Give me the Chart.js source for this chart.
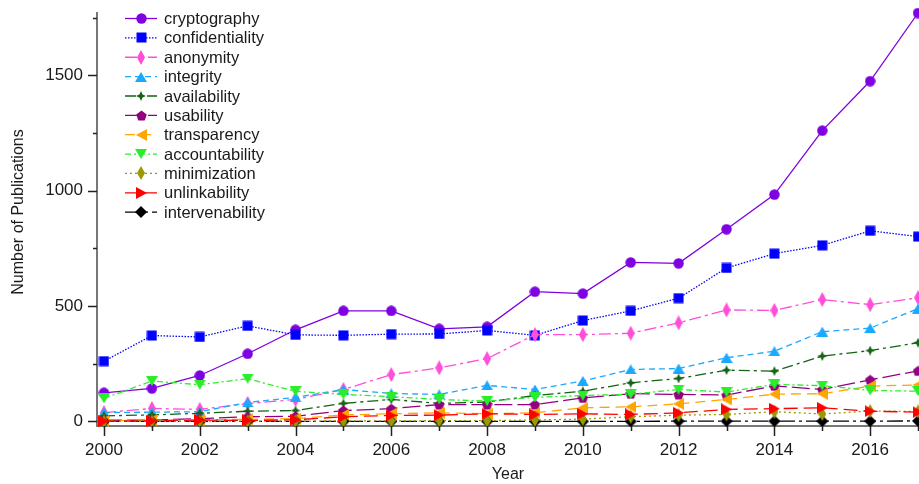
<!DOCTYPE html>
<html>
<head>
<meta charset="utf-8">
<title>Publications per year</title>
<script src="https://cdn.jsdelivr.net/npm/chart.js@4.4.1/dist/chart.umd.min.js"></script>
<style>
  html, body { margin: 0; padding: 0; background: #fff; overflow: hidden; }
  #chart { display: block; }
</style>
</head>
<body>
<canvas id="chart" width="919" height="484"></canvas>
<script>
// publications per year and keyword
var years = [2000, 2001, 2002, 2003, 2004, 2005, 2006, 2007, 2008, 2009, 2010, 2011, 2012, 2013, 2014, 2015, 2016, 2017];
var xTickLabels = [2000, 2002, 2004, 2006, 2008, 2010, 2012, 2014, 2016];
var yTickLabels = [0, 500, 1000, 1500];
var yMinorTicks = [250, 750, 1250, 1750];

var cryptography    = [124, 143, 199, 293, 397, 479, 479, 401, 410, 562, 554, 689, 685, 833, 983, 1260, 1475, 1770];
var confidentiality = [261, 372, 366, 414, 375, 373, 378, 379, 394, 373, 437, 479, 534, 665, 727, 763, 826, 801];
var anonymity       = [38, 56, 52, 77, 95, 138, 203, 232, 272, 376, 376, 382, 427, 483, 481, 528, 506, 536];
var integrity       = [38, 40, 42, 82, 104, 138, 121, 117, 156, 138, 175, 225, 229, 276, 304, 389, 404, 489];
var availability    = [24, 28, 35, 44, 47, 78, 95, 78, 84, 112, 131, 167, 186, 222, 218, 283, 307, 341];
var usability       = [5, 6, 12, 20, 22, 47, 55, 73, 73, 73, 102, 120, 117, 114, 154, 138, 180, 219];
var transparency    = [3, 5, 7, 9, 12, 28, 33, 37, 33, 37, 59, 63, 76, 95, 118, 120, 153, 158];
var accountability  = [100, 175, 159, 185, 130, 117, 107, 95, 88, 104, 112, 118, 138, 127, 160, 155, 134, 131];
var minimization    = [0, 0, 1, 1, 1, 2, 2, 3, 3, 6, 10, 20, 27, 30, 42, 32, 45, 43];
var unlinkability   = [1, 2, 6, 4, 7, 20, 26, 27, 33, 30, 33, 30, 37, 52, 55, 59, 44, 40];
var intervenability = [0, 0, 0, 0, 0, 0, 0, 0, 0, 0, 0, 0, 1, 1, 1, 1, 1, 2];

var FONT = '"Liberation Sans", Arial, sans-serif';

// marker images, drawn once and reused by the points and the legend
function marker(w, h, color, path) {
    var c = document.createElement('canvas');
    c.width = w;
    c.height = h;
    var g = c.getContext('2d');
    g.fillStyle = color;
    g.beginPath();
    path(g, w, h);
    g.closePath();
    g.fill();
    return c;
}
function circle(g, w, h) { g.arc(w / 2, h / 2, w / 2 - 0.3, 0, Math.PI * 2); }
function square(g, w, h) { g.rect(0.5, 0.5, w - 1, h - 1); }
function diamond(g, w, h) { g.moveTo(w / 2, 0); g.lineTo(w, h / 2); g.lineTo(w / 2, h); g.lineTo(0, h / 2); }
function triUp(g, w, h) { g.moveTo(w / 2, 0); g.lineTo(w, h); g.lineTo(0, h); }
function triDown(g, w, h) { g.moveTo(0, 0); g.lineTo(w, 0); g.lineTo(w / 2, h); }
function triLeft(g, w, h) { g.moveTo(0, h / 2); g.lineTo(w, 0); g.lineTo(w, h); }
function triRight(g, w, h) { g.moveTo(w, h / 2); g.lineTo(0, 0); g.lineTo(0, h); }
function star4(g, w, h) {
    for (var k = 0; k < 8; k++) {
        var a = k * Math.PI / 4 - Math.PI / 2;
        var r = k % 2 === 0 ? w / 2 : w * 0.22;
        var px = w / 2 + Math.cos(a) * r, py = h / 2 + Math.sin(a) * r;
        if (k === 0) g.moveTo(px, py); else g.lineTo(px, py);
    }
}
function pentagon(g, w, h) {
    for (var k = 0; k < 5; k++) {
        var a = k * 2 * Math.PI / 5 - Math.PI / 2;
        var px = w / 2 + Math.cos(a) * w / 2, py = h / 2 + 0.6 + Math.sin(a) * w / 2;
        if (k === 0) g.moveTo(px, py); else g.lineTo(px, py);
    }
}

function series(label, values, color, dash, img, order) {
    return {
        label: label,
        data: values.map(function (v, i) { return { x: years[i], y: v }; }),
        borderColor: color,
        backgroundColor: color,
        borderWidth: 1.3,
        borderDash: dash,
        pointStyle: img,
        pointRadius: 6,
        order: order,
        clip: false,
        tension: 0
    };
}

var datasets = [
    series('cryptography', cryptography, '#7f00e0', [], marker(11, 11, '#7f00e0', circle), 11),
    series('confidentiality', confidentiality, '#0000ff', [1.5, 1.5], marker(11, 11, '#0000ff', square), 10),
    series('anonymity', anonymity, '#ff4fd8', [12, 4, 3, 4], marker(8, 15, '#ff4fd8', diamond), 9),
    series('integrity', integrity, '#1aa9ff', [6, 4], marker(12, 10, '#1aa9ff', triUp), 8),
    series('availability', availability, '#126312', [11, 4, 3, 4], marker(10, 10, '#126312', star4), 7),
    series('usability', usability, '#920080', [18, 5], marker(11, 11, '#920080', pentagon), 6),
    series('transparency', transparency, '#ffa500', [10, 6], marker(11, 12, '#ffa500', triLeft), 5),
    series('accountability', accountability, '#2aee2a', [6, 3, 2, 3], marker(12, 10, '#2aee2a', triDown), 4),
    series('minimization', minimization, '#999900', [2, 3], marker(8, 14, '#999900', diamond), 3),
    series('unlinkability', unlinkability, '#ff0000', [14, 6], marker(11, 12, '#ff0000', triRight), 2),
    series('intervenability', intervenability, '#000000', [16, 4, 3, 4], marker(12, 12, '#000000', diamond), 3.5)
];

// tick marks (long at labelled values, short in between) and the y title
var axisExtras = {
    id: 'axisExtras',
    afterDraw: function (chart) {
        var ctx = chart.ctx, x = chart.scales.x, y = chart.scales.y, area = chart.chartArea;
        ctx.save();
        ctx.strokeStyle = '#222';
        ctx.lineWidth = 1.5;
        ctx.beginPath();
        years.forEach(function (yr) {
            var px = Math.round(x.getPixelForValue(yr)) + 0.5;
            var len = xTickLabels.indexOf(yr) >= 0 ? 10 : 5;
            ctx.moveTo(px, area.bottom);
            ctx.lineTo(px, area.bottom + len);
        });
        yTickLabels.concat(yMinorTicks).forEach(function (v) {
            var py = Math.round(y.getPixelForValue(v)) + 0.5;
            var len = yTickLabels.indexOf(v) >= 0 ? 9 : 4;
            ctx.moveTo(area.left, py);
            ctx.lineTo(area.left - len, py);
        });
        ctx.stroke();

        ctx.translate(18.5, 212);
        ctx.rotate(-Math.PI / 2);
        ctx.font = '16px ' + FONT;
        ctx.fillStyle = '#1a1a1a';
        ctx.textAlign = 'center';
        ctx.textBaseline = 'middle';
        ctx.fillText('Number of Publications', 0, 0);
        ctx.restore();
    }
};

// legend inside the plot: line sample with its marker, then the name
var lineLegend = {
    id: 'lineLegend',
    afterDraw: function (chart) {
        var ctx = chart.ctx;
        ctx.save();
        ctx.font = '16.5px ' + FONT;
        ctx.textBaseline = 'middle';
        ctx.textAlign = 'left';
        chart.data.datasets.forEach(function (ds, i) {
            var cy = 18.5 + i * 19.37;
            ctx.strokeStyle = ds.borderColor;
            ctx.lineWidth = ds.borderWidth;
            ctx.setLineDash(ds.borderDash);
            ctx.beginPath();
            ctx.moveTo(125, cy);
            ctx.lineTo(157, cy);
            ctx.stroke();
            ctx.setLineDash([]);
            var img = ds.pointStyle;
            ctx.drawImage(img, Math.round(141 - img.width / 2), Math.round(cy - img.height / 2));
            ctx.fillStyle = '#1a1a1a';
            ctx.fillText(ds.label, 164, cy + 1);
        });
        ctx.restore();
    }
};

new Chart(document.getElementById('chart'), {
    type: 'line',
    data: { datasets: datasets },
    options: {
        responsive: false,
        animation: false,
        events: [],
        layout: { autoPadding: false, padding: { top: 13, right: 0, left: 0, bottom: 0 } },
        plugins: {
            legend: { display: false },
            tooltip: { enabled: false }
        },
        scales: {
            x: {
                type: 'linear',
                min: 1999.854,
                max: 2017.02,
                grid: { display: false, drawTicks: false },
                border: { display: true, color: '#777', width: 2 },
                ticks: {
                    color: '#1a1a1a',
                    font: { family: FONT, size: 17 },
                    padding: 14,
                    maxRotation: 0,
                    autoSkip: false,
                    callback: function (v) { return String(v); }
                },
                afterBuildTicks: function (scale) {
                    scale.ticks = xTickLabels.map(function (v) { return { value: v }; });
                },
                afterFit: function (scale) {
                    scale.height = 58;
                    scale.paddingLeft = 0;
                    scale.paddingRight = 0;
                },
                title: {
                    display: true,
                    text: 'Year',
                    color: '#1a1a1a',
                    font: { family: FONT, size: 16 },
                    padding: { top: 0, bottom: 0 }
                }
            },
            y: {
                min: -20,
                max: 1770,
                grid: { display: false, drawTicks: false },
                border: { display: true, color: '#777', width: 2 },
                ticks: {
                    color: '#1a1a1a',
                    font: { family: FONT, size: 17 },
                    padding: 14,
                    autoSkip: false,
                    callback: function (v) { return String(v); }
                },
                afterBuildTicks: function (scale) {
                    scale.ticks = yTickLabels.map(function (v) { return { value: v }; });
                },
                afterFit: function (scale) {
                    scale.width = 97;
                    scale.paddingTop = 0;
                    scale.paddingBottom = 0;
                }
            }
        }
    },
    plugins: [axisExtras, lineLegend]
});
</script>
</body>
</html>
